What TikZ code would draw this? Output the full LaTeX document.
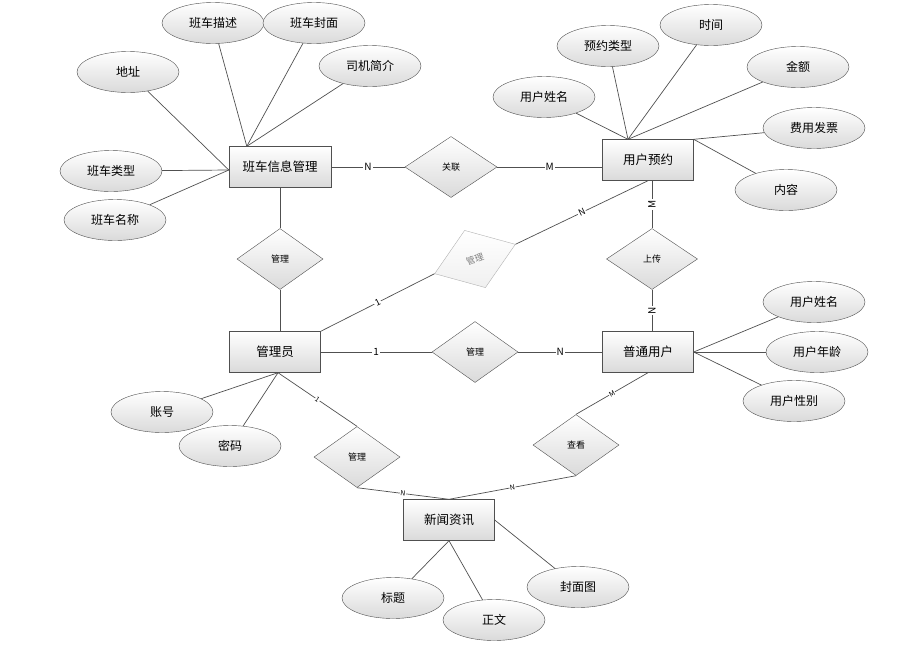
\documentclass[tikz,border=0pt]{standalone}
\usepackage{fontspec}
\setmainfont{Noto Sans CJK SC}
\usetikzlibrary{shapes.geometric, positioning, calc}
\definecolor{edgegray}{HTML}{505050}
\definecolor{fillgray}{HTML}{DADADA}

\begin{document}
\begin{tikzpicture}[x=1pt, y=-1pt,
  entity/.style={rectangle, draw=edgegray, top color=white, bottom color=fillgray, minimum width=91pt, minimum height=41pt, font=\fontsize{12.5}{14}\selectfont},
  attr/.style={ellipse, draw=edgegray, top color=white, bottom color=fillgray, minimum width=102pt, minimum height=41pt, inner sep=0pt, font=\fontsize{12}{14}\selectfont},
  rel/.style={diamond, draw=edgegray, top color=white, bottom color=fillgray, minimum width=86pt, minimum height=61pt, inner sep=0pt, font=\fontsize{9}{10}\selectfont},
  line/.style={draw=edgegray, line width=0.7pt},
  card/.style={fill=white, inner sep=1pt, font=\fontsize{10}{10}\selectfont},
  smallcard/.style={fill=white, inner sep=0.5pt, font=\fontsize{7}{7}\selectfont}
]
\useasboundingbox (0,0) rectangle (917,646);

% Entities
\node[entity, minimum width=102pt] (bc) at (280,167) {班车信息管理};
\node[entity] (yy) at (648,160) {用户预约};
\node[entity] (gly) at (275,352) {管理员};
\node[entity] (pt) at (648,352) {普通用户};
\node[entity] (xw) at (449,520) {新闻资讯};

% Relations
\node[rel, minimum width=92pt] (gl) at (451,167) {关联};
\node[rel] (mg1) at (280,259) {管理};
\node[rel, draw=gray!60, text=gray, top color=white, bottom color=gray!12, rotate=20] (mg2) at (475,259) {管理};
\node[rel, minimum width=91pt] (sc) at (652,259) {上传};
\node[rel] (mg3) at (475,352) {管理};
\node[rel] (mg4) at (357,457) {管理};
\node[rel] (ck) at (576,445) {查看};

% Attributes
\node[attr] (ms) at (213,23) {班车描述};
\node[attr] (fm) at (314,23) {班车封面};
\node[attr] (dz) at (128,72) {地址};
\node[attr] (sj) at (370,66) {司机简介};
\node[attr] (lx) at (111,171) {班车类型};
\node[attr] (mc) at (115,220) {班车名称};

\node[attr] (yxm) at (544,97) {用户姓名};
\node[attr] (ylx) at (608,46) {预约类型};
\node[attr] (sjn) at (711,25) {时间};
\node[attr] (je) at (798,67) {金额};
\node[attr] (fp) at (814,128) {费用发票};
\node[attr] (nr) at (786,190) {内容};

\node[attr] (pxm) at (814,302) {用户姓名};
\node[attr] (pnl) at (817,352) {用户年龄};
\node[attr] (pxb) at (794,401) {用户性别};

\node[attr] (zh) at (162,412) {账号};
\node[attr] (mm) at (230,446) {密码};

\node[attr] (bt) at (393,598) {标题};
\node[attr] (zw) at (494,620) {正文};
\node[attr] (fmt) at (578,587) {封面图};

% Meeting points
\coordinate (bctop) at ($(bc.north west)+(18,0)$);
\coordinate (yytop) at ($(yy.north)+(-20,0)$);
\coordinate (glyb) at ($(gly.south)+(3,0)$);

% Attribute lines
\foreach \a in {ms, fm, sj} \draw[line] (\a) -- (bctop);
\foreach \a in {dz, lx, mc} \draw[line] (\a) -- ($(bc.west)+(0,3)$);
\foreach \a in {yxm, ylx, sjn, je} \draw[line] (\a) -- (yytop);
\foreach \a in {fp, nr} \draw[line] (\a) -- (yy.north east);
\foreach \a in {pxm, pnl, pxb} \draw[line] (\a) -- (pt.east);
\foreach \a in {zh, mm} \draw[line] (\a) -- (glyb);
\foreach \a in {bt, zw} \draw[line] (\a) -- (xw.south);
\draw[line] (fmt) -- (xw.east);

% Relationships
\draw[line] (bc.east) -- node[card] {N} (gl.west);
\draw[line] (gl.east) -- node[card] {M} (gl.east -| yy.west);
\draw[line] (bc.south) -- (mg1.north);
\draw[line] (mg1.south) -- (mg1.south |- gly.north);
\draw[line] (gly.north east) -- node[card, sloped, font=\fontsize{9}{9}\selectfont] {1} (mg2.west);
\draw[line] (mg2.east) -- node[card, sloped, font=\fontsize{9}{9}\selectfont] {N} (yy.south);
\draw[line] (yy.south -| sc.north) -- node[card, rotate=90] {M} (sc.north);
\draw[line] (sc.south) -- node[card, rotate=90] {N} (sc.south |- pt.north);
\draw[line] (gly.east) -- node[card] {1} (mg3.west);
\draw[line] (mg3.east) -- node[card] {N} (pt.west);
\draw[line] (glyb) -- node[smallcard, sloped] {1} (mg4.north);
\draw[line] (mg4.south) -- node[smallcard, sloped] {N} (xw.north);
\draw[line] (pt.south) -- node[smallcard, sloped] {M} (ck.north);
\draw[line] (ck.south) -- node[smallcard, sloped] {N} (xw.north);
\end{tikzpicture}
\end{document}
